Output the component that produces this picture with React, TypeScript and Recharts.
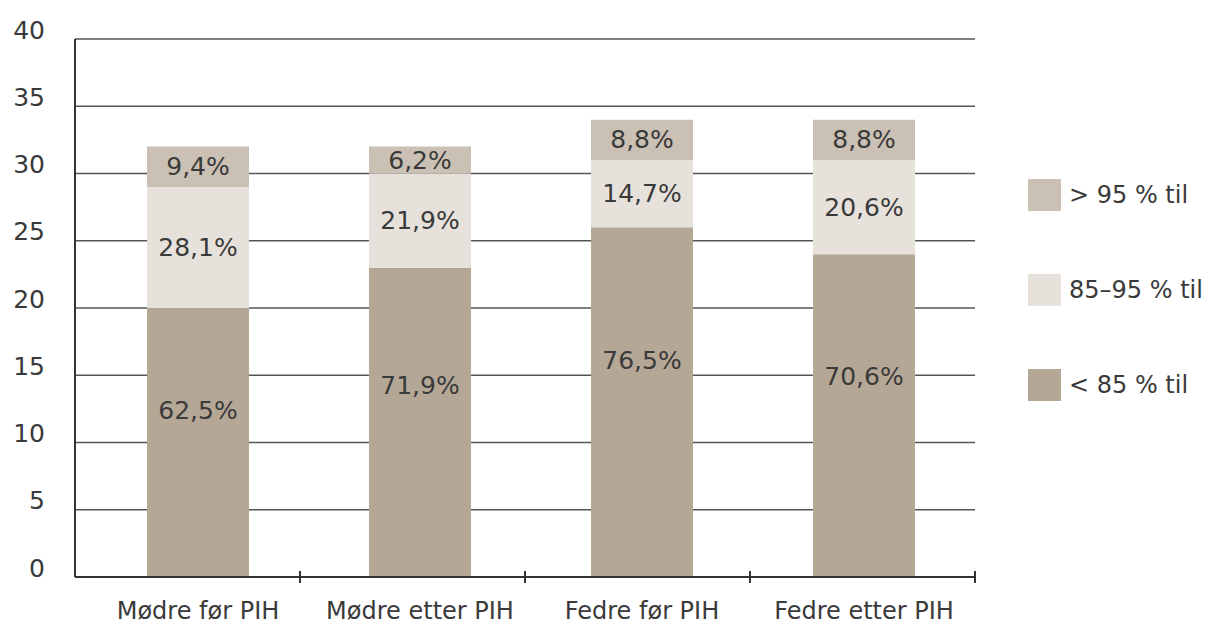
import { BarChart, Bar, XAxis, YAxis, CartesianGrid, LabelList } from "recharts";

const categories = ["Mødre før PIH", "Mødre etter PIH", "Fedre før PIH", "Fedre etter PIH"];
const under85 = [20, 23, 26, 24];
const between85and95 = [9, 7, 5, 7];
const over95 = [3, 2, 3, 3];
const under85Pct = ["62,5%", "71,9%", "76,5%", "70,6%"];
const between85and95Pct = ["28,1%", "21,9%", "14,7%", "20,6%"];
const over95Pct = ["9,4%", "6,2%", "8,8%", "8,8%"];
const yTicks = [0, 5, 10, 15, 20, 25, 30, 35, 40];

const legendItems = [
  { label: "> 95 % til", color: "#cbc0b4" },
  { label: "85–95 % til", color: "#e7e1db" },
  { label: "< 85 % til", color: "#b5a796" },
];

const data = categories.map((name, i) => ({
  name,
  low: under85[i],
  mid: between85and95[i],
  high: over95[i],
  lowPct: under85Pct[i],
  midPct: between85and95Pct[i],
  highPct: over95Pct[i],
}));

const FONT = "'DejaVu Sans', 'Liberation Sans', Arial, sans-serif";
const TEXT = "#3a3a3a";
const FS = 25;
const CHART_W = 988;
const CHART_H = 632;
const MARGIN_R = 13;
const Y_W = 75;
// the boundary ticks sit on the full plot width, bars are shifted a bit right (x padding)
const BAND = (CHART_W - MARGIN_R - Y_W) / categories.length;

const segLabel = (ratio: number) => (props: any) => {
  const { x, y, width, height, value } = props;
  return (
    <text
      x={x + width / 2}
      y={y + height * ratio}
      textAnchor="middle"
      dominantBaseline="central"
      fontSize={FS}
      fontFamily={FONT}
      fill={TEXT}
    >
      {value}
    </text>
  );
};

const YTick = (props: any) => {
  const { x, y, payload } = props;
  return (
    <text x={x} y={y - 9} textAnchor="end" dominantBaseline="central" fontSize={FS} fontFamily={FONT} fill={TEXT}>
      {payload.value}
    </text>
  );
};

const XTick = (props: any) => {
  const { x, y, payload, index } = props;
  const edge = Y_W + index * BAND;
  return (
    <g>
      {index > 0 && <line x1={edge} x2={edge} y1={y - 6} y2={y + 6} stroke="#333" strokeWidth={2} />}
      {index === categories.length - 1 && (
        <line x1={edge + BAND} x2={edge + BAND} y1={y - 6} y2={y + 6} stroke="#333" strokeWidth={2} />
      )}
      <text x={x} y={y + 42} textAnchor="middle" fontSize={24} fontFamily={FONT} fill={TEXT}>
        {payload.value}
      </text>
    </g>
  );
};

export default function App() {
  return (
    <div style={{ position: "relative", margin: -8, width: 1213, height: CHART_H, fontFamily: FONT }}>
      <BarChart
        width={CHART_W}
        height={CHART_H}
        data={data}
        margin={{ top: 39, right: MARGIN_R, left: 0, bottom: 0 }}
        barSize={102}
      >
        <CartesianGrid vertical={false} stroke="#555" strokeWidth={1.5} />
        <YAxis
          width={Y_W}
          domain={[0, 40]}
          ticks={yTicks}
          interval={0}
          axisLine={{ stroke: "#333", strokeWidth: 2 }}
          tickLine={false}
          tickSize={0}
          tickMargin={30}
          tick={<YTick />}
        />
        <XAxis
          dataKey="name"
          height={55}
          interval={0}
          padding={{ left: 12, right: 0 }}
          axisLine={{ stroke: "#333", strokeWidth: 2 }}
          tickLine={false}
          tickSize={0}
          tickMargin={0}
          tick={<XTick />}
        />
        <Bar dataKey="low" stackId="a" fill="#b5a796" isAnimationActive={false}>
          <LabelList dataKey="lowPct" content={segLabel(0.38)} />
        </Bar>
        <Bar dataKey="mid" stackId="a" fill="#e7e1db" isAnimationActive={false}>
          <LabelList dataKey="midPct" content={segLabel(0.5)} />
        </Bar>
        <Bar dataKey="high" stackId="a" fill="#cbc0b4" isAnimationActive={false}>
          <LabelList dataKey="highPct" content={segLabel(0.5)} />
        </Bar>
      </BarChart>
      {legendItems.map((item, i) => (
        <div
          key={item.label}
          style={{
            position: "absolute",
            left: 1028,
            top: 179 + i * 95,
            display: "flex",
            alignItems: "center",
            height: 32,
          }}
        >
          <div style={{ width: 33, height: 32, background: item.color }} />
          <span style={{ marginLeft: 8, fontSize: 24, color: TEXT, whiteSpace: "nowrap" }}>{item.label}</span>
        </div>
      ))}
    </div>
  );
}
